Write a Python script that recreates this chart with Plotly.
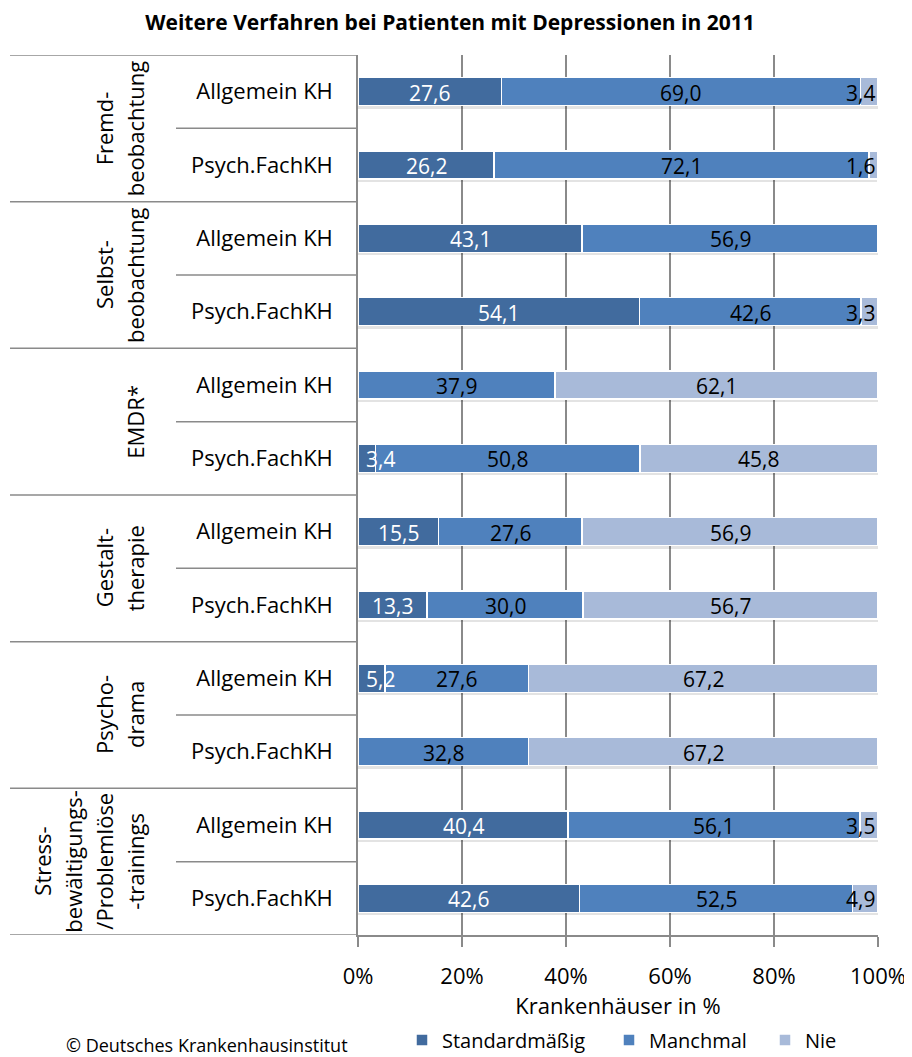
import plotly.graph_objects as go

# =========================
# DATA
# =========================
groups = [["Fremd-", "beobachtung"],
          ["Selbst-", "beobachtung"],
          ["EMDR*"],
          ["Gestalt-", "therapie"],
          ["Psycho-", "drama"],
          ["Stress-", "bewältigungs-", "/Problemlöse", "-trainings"]]
rows = ["Allgemein KH", "Psych.FachKH"] * 6

standard = [27.6, 26.2, 43.1, 54.1, 0.0, 3.4, 15.5, 13.3, 5.2, 0.0, 40.4, 42.6]
manchmal = [69.0, 72.1, 56.9, 42.6, 37.9, 50.8, 27.6, 30.0, 27.6, 32.8, 56.1, 52.5]
nie = [3.4, 1.6, 0.0, 3.3, 62.1, 45.8, 56.9, 56.7, 67.2, 67.2, 3.5, 4.9]

series = [("Standardmäßig", standard, "#416B9E", "white"),
          ("Manchmal", manchmal, "#4F81BD", "black"),
          ("Nie", nie, "#A8BAD9", "black")]

x_ticks = [0, 20, 40, 60, 80, 100]

FONT = "Open Sans, sans-serif"
GRID = "#8a8a8a"

# the page body adds an 8px margin, so work in page pixels minus 8
OFF = 8
W, H = 912 - OFF, 1057 - OFF
L, R, T, B = 358 - OFF, 34, 55 - OFF, 1057 - 935
PW, PH = W - L - R, H - T - B


def px_x(px):
    # page pixel -> paper x
    return (px - OFF - L) / PW


def px_y(py):
    # page pixel -> paper y
    return (H - B - (py - OFF)) / PH


fig = go.Figure()
y_idx = list(range(len(rows)))
totals = [a + b + c for a, b, c in zip(standard, manchmal, nie)]

# soft shadow under each bar (drawn on the lower axis)
fig.add_trace(go.Bar(
    y=y_idx, x=totals, orientation="h", yaxis="y", width=0.08, offset=0.15,
    marker=dict(color="rgba(0,0,0,0.11)", line=dict(width=0)),
    showlegend=False, hoverinfo="skip",
))

legend_sq = [418, 625, 781]
for k, (name, vals, color, _) in enumerate(series):
    fig.add_trace(go.Bar(
        y=y_idx, x=vals, name=name, orientation="h", yaxis="y2",
        width=0.38, marker=dict(color=color, line=dict(color="white", width=1.5)),
        legend="legend" if k == 0 else f"legend{k + 1}",
        hoverinfo="x+name",
    ))

# data labels, centred in each segment (clamped at the plot edges like Excel)
for i in y_idx:
    left = 0.0
    for name, vals, color, tcolor in series:
        v = vals[i]
        if v > 0:
            mid = min(max(left + v / 2, 4.4), 96.6)
            fig.add_annotation(
                x=mid, y=i, xref="x", yref="y2", showarrow=False,
                text=f"{v:.1f}".replace(".", ","),
                font=dict(family=FONT, size=21, color=tcolor),
                yshift=-1,
            )
        left += v

# group labels and separators on the left
for g, lines in enumerate(groups):
    n = len(lines)
    for j, line in enumerate(lines):
        fig.add_annotation(
            x=px_x(135 - 31 * (n - 1 - j)), y=2 * g + 0.5, xref="paper", yref="y2",
            text=line, textangle=-90, showarrow=False,
            xanchor="center", yanchor="middle",
            font=dict(family=FONT, size=22, color="black"),
        )
    fig.add_shape(type="line", xref="paper", yref="y2",
                  x0=px_x(10), x1=0, y0=2 * g - 0.5, y1=2 * g - 0.5,
                  line=dict(color=GRID, width=1.5))
    fig.add_shape(type="line", xref="paper", yref="y2",
                  x0=px_x(176), x1=0, y0=2 * g + 0.5, y1=2 * g + 0.5,
                  line=dict(color=GRID, width=1.5))
fig.add_shape(type="line", xref="paper", yref="y2",
              x0=px_x(10), x1=0, y0=len(rows) - 0.5, y1=len(rows) - 0.5,
              line=dict(color=GRID, width=1.5))

fig.add_annotation(
    x=px_x(64), y=px_y(1045), xref="paper", yref="paper",
    xanchor="left", yanchor="middle", showarrow=False,
    text="© Deutsches Krankenhausinstitut",
    font=dict(family=FONT, size=18, color="black"),
)

legend_style = dict(orientation="h", xanchor="left", yanchor="middle",
                    xref="container", yref="container", y=1 - (1040 - OFF) / H,
                    font=dict(family=FONT, size=20, color="black"),
                    itemwidth=30, bgcolor="rgba(0,0,0,0)", borderwidth=0)

y_range = [len(rows) - 0.5, -0.5]

fig.update_layout(
    width=W, height=H,
    barmode="stack",
    plot_bgcolor="white", paper_bgcolor="white",
    margin=dict(l=L, r=R, t=T, b=B, autoexpand=False),
    title=dict(text="<b>Weitere Verfahren bei Patienten mit Depressionen in 2011</b>",
               x=(450 - OFF) / W, xanchor="center", y=1 - (23 - OFF) / H, yanchor="middle",
               font=dict(family=FONT, size=21, color="black")),
    font=dict(family=FONT, color="black"),
    showlegend=True,
    legend=dict(legend_style, x=(legend_sq[0] - OFF - 16) / W),
    legend2=dict(legend_style, x=(legend_sq[1] - OFF - 16) / W),
    legend3=dict(legend_style, x=(legend_sq[2] - OFF - 16) / W),
    xaxis=dict(range=[0, 100], tickvals=x_ticks, ticktext=[f"{t}%" for t in x_ticks],
               showgrid=True, gridcolor=GRID, gridwidth=1.5,
               showline=True, linecolor=GRID, linewidth=1.5,
               ticks="outside", ticklen=10, tickcolor=GRID, tickwidth=1.5,
               ticklabelstandoff=11,
               tickfont=dict(family=FONT, size=22, color="black"),
               title=dict(text="Krankenhäuser in %", standoff=11,
                          font=dict(family=FONT, size=22, color="black")),
               zeroline=False, fixedrange=True, automargin=False),
    yaxis=dict(range=y_range, tickvals=y_idx, ticktext=rows,
               showline=True, linecolor=GRID, linewidth=1.5,
               showgrid=False, zeroline=False, ticks="",
               ticklabelstandoff=19,
               tickfont=dict(family=FONT, size=22, color="black"),
               fixedrange=True, automargin=False),
    yaxis2=dict(range=y_range, overlaying="y", showticklabels=False,
                showgrid=False, zeroline=False, showline=False,
                fixedrange=True, automargin=False),
)

fig.write_html("out.html")
